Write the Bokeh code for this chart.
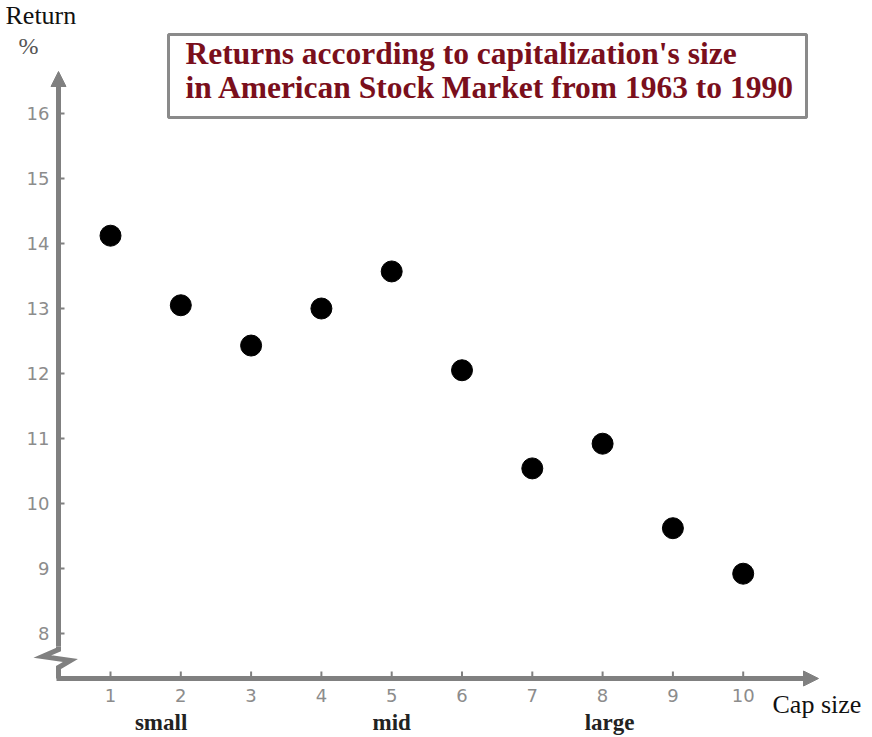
from bokeh.plotting import figure
from bokeh.models import Arrow, NormalHead, Range1d
from bokeh.core.properties import value
from bokeh.embed import file_html
from bokeh.resources import INLINE

# ---- data ----
cap_size = [1, 2, 3, 4, 5, 6, 7, 8, 9, 10]
returns = [14.12, 13.05, 12.43, 13.0, 13.57, 12.05, 10.54, 10.92, 9.62, 8.92]
y_ticks = [8, 9, 10, 11, 12, 13, 14, 15, 16]
x_ticks = [1, 2, 3, 4, 5, 6, 7, 8, 9, 10]
group_labels = ["small", "mid", "large"]
group_pos = [1.72, 5.0, 8.1]
title_lines = ["Returns according to capitalization's size",
               "in American Stock Market from 1963 to 1990"]

# ---- layout: plot frame covers the whole canvas ----
W, H = 872, 737
SX, SY = 70.3, 65.0                  # pixels per data unit
X0 = 1 - 110 / SX                    # data x at canvas left edge
Y0 = 8 - (H - 633) / SY              # data y at canvas bottom edge
X1 = X0 + W / SX
Y1 = Y0 + H / SY

def px(page_x):
    return X0 + page_x / SX

def py(page_y):
    return Y0 + (H - page_y) / SY

AX_X = px(58)     # data x of the vertical axis
AX_Y = py(678)    # data y of the horizontal axis

p = figure(width=W, height=H, output_backend="svg", toolbar_location=None,
           x_range=Range1d(X0, X1), y_range=Range1d(Y0, Y1),
           min_border=0)
p.axis.visible = False
p.outline_line_color = None
p.xgrid.visible = False
p.ygrid.visible = False
p.background_fill_color = "white"
p.border_fill_color = "white"

GRAY = "#808080"
TICK_COL = "#8c8c8c"

# title box (drawn first, under its text)
p.quad(left=[px(168)], right=[px(806)], top=[py(34)], bottom=[py(117)],
       fill_color="white", line_color="#8a8a8a", line_width=3)
p.text(x=[px(185), px(185)], y=[py(53), py(87)], text=title_lines,
       text_font=value("Liberation Serif"), text_font_style="bold",
       text_font_size="31.5px", text_color="#7a0f1c",
       text_baseline="middle", text_align="left")

# tick marks
p.segment(x0=[AX_X] * len(y_ticks), y0=y_ticks,
          x1=[px(64)] * len(y_ticks), y1=y_ticks, line_color=GRAY, line_width=2)
p.segment(x0=x_ticks, y0=[AX_Y] * len(x_ticks),
          x1=x_ticks, y1=[py(671)] * len(x_ticks), line_color=GRAY, line_width=2)

# tick labels
p.text(x=[px(49)] * len(y_ticks), y=y_ticks, text=[str(t) for t in y_ticks],
       text_font=value("DejaVu Sans"), text_font_size="18px", text_color=TICK_COL,
       text_align="right", text_baseline="middle")
p.text(x=x_ticks, y=[py(695)] * len(x_ticks), text=[str(t) for t in x_ticks],
       text_font=value("DejaVu Sans"), text_font_size="18px", text_color=TICK_COL,
       text_align="center", text_baseline="middle")

# axes lines with arrows and break
p.line([AX_X, AX_X, px(70), px(42), AX_X, AX_X],
       [AX_Y, py(667), py(660), py(656), py(649), py(646)],
       line_color=GRAY, line_width=5, line_join="miter")
p.add_layout(Arrow(end=NormalHead(size=15, fill_color=GRAY, line_color=GRAY),
                   x_start=AX_X, y_start=py(646), x_end=AX_X, y_end=py(71),
                   line_color=GRAY, line_width=5))
p.add_layout(Arrow(end=NormalHead(size=15, fill_color=GRAY, line_color=GRAY),
                   x_start=px(56), y_start=AX_Y, x_end=px(818), y_end=AX_Y,
                   line_color=GRAY, line_width=5))

# data points
p.scatter(cap_size, returns, size=21, fill_color="black", line_color="black")

# axis titles
p.text(x=[px(5)], y=[py(15)], text=["Return"], text_font=value("Liberation Serif"),
       text_font_size="26px", text_color="#111111",
       text_baseline="middle", text_align="left")
p.text(x=[px(18)], y=[py(45)], text=["%"], text_font=value("Liberation Serif"),
       text_font_size="24px", text_color="#555555",
       text_baseline="middle", text_align="left")
p.text(x=[px(772)], y=[py(704)], text=["Cap size"], text_font=value("Liberation Serif"),
       text_font_size="26px", text_color="#111111",
       text_baseline="middle", text_align="left")
p.text(x=group_pos, y=[py(722)] * len(group_pos), text=group_labels,
       text_font=value("Liberation Serif"), text_font_style="bold",
       text_font_size="23px", text_color="#222222",
       text_baseline="middle", text_align="center")

open("out.html", "w").write(file_html(p, INLINE))
